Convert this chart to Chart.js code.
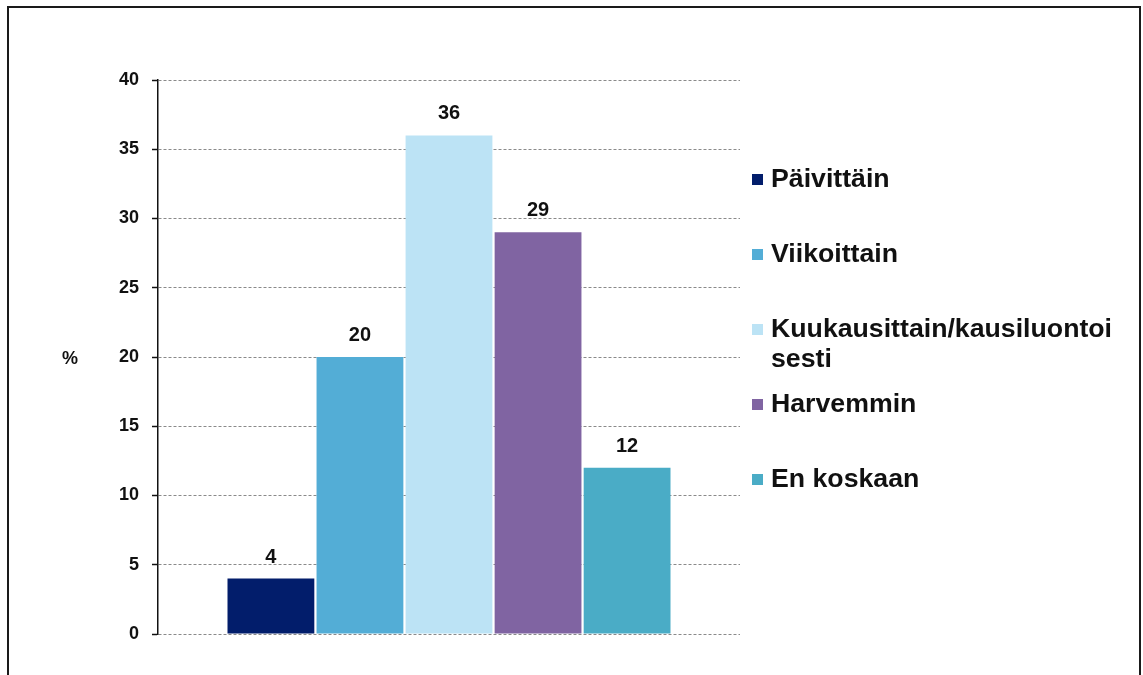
<!DOCTYPE html>
<html>
<head>
<meta charset="utf-8">
<script src="https://cdn.jsdelivr.net/npm/chart.js@4"></script>
<style>
    body { margin: 0; background: #fff; }
    #wrap { position: relative; width: 1143px; height: 675px; overflow: hidden; }
    #frame {
        position: absolute; left: 7px; top: 6px; width: 1130px; height: 720px;
        border: 2px solid #1a1a1a; pointer-events: none;
    }
    canvas { position: absolute; left: 0; top: 0; }
</style>
</head>
<body>
<div id="wrap">
    <canvas id="chart" width="1143" height="675"></canvas>
    <div id="frame"></div>
</div>
<script>
// Data
const categories = [''];
const seriesNames = ['Päivittäin', 'Viikoittain', 'Kuukausittain/kausiluontoisesti', 'Harvemmin', 'En koskaan'];
const legendLines = [['Päivittäin'], ['Viikoittain'], ['Kuukausittain/kausiluontoi', 'sesti'], ['Harvemmin'], ['En koskaan']];
const seriesValues = [4, 20, 36, 29, 12];
const seriesColors = ['#021D6B', '#53ADD6', '#BCE3F5', '#8064A2', '#4AACC6'];
const yTicks = [0, 5, 10, 15, 20, 25, 30, 35, 40];
const yTitle = '%';

const FONT = "'Liberation Sans', Arial, sans-serif";

// Value labels above bars, y title and the legend on the right
const extrasPlugin = {
    id: 'extras',
    afterDatasetsDraw(chart) {
        const ctx = chart.ctx;
        ctx.save();
        ctx.fillStyle = '#111';
        ctx.font = 'bold 20px ' + FONT;
        ctx.textAlign = 'center';
        ctx.textBaseline = 'alphabetic';
        chart.data.datasets.forEach((ds, i) => {
            chart.getDatasetMeta(i).data.forEach((bar, j) => {
                ctx.fillText(String(ds.data[j]), bar.x, bar.y - 16);
            });
        });

        // y title, horizontal
        const area = chart.chartArea;
        ctx.font = 'bold 18px ' + FONT;
        ctx.textBaseline = 'middle';
        ctx.fillText(yTitle, 70, (area.top + area.bottom) / 2 + 2);

        // legend
        ctx.textAlign = 'left';
        ctx.font = 'bold 26.7px ' + FONT;
        chart.data.datasets.forEach((ds, i) => {
            const y = 180 + i * 75;
            ctx.fillStyle = ds.backgroundColor;
            ctx.fillRect(752, y - 6, 11, 11);
            ctx.fillStyle = '#111';
            legendLines[i].forEach((line, k) => {
                ctx.fillText(line, 771, y + k * 30);
            });
        });
        ctx.restore();
    }
};

new Chart(document.getElementById('chart'), {
    type: 'bar',
    data: {
        labels: categories,
        datasets: seriesNames.map((name, i) => ({
            label: name,
            data: [seriesValues[i]],
            backgroundColor: seriesColors[i],
            borderWidth: 0,
            categoryPercentage: 0.765,
            barPercentage: 0.975
        }))
    },
    options: {
        responsive: false,
        animation: false,
        layout: {
            padding: { left: 0, right: 403, top: 80, bottom: 41 }
        },
        plugins: {
            legend: { display: false },
            tooltip: { enabled: false }
        },
        scales: {
            x: { display: false },
            y: {
                min: 0,
                max: 40,
                afterFit: function (scale) {
                    scale.width = 158;
                },
                afterBuildTicks: function (scale) {
                    scale.ticks = yTicks.map(v => ({ value: v }));
                },
                grid: {
                    color: '#8a8a8a',
                    lineWidth: 1,
                    tickLength: 6,
                    tickColor: '#111',
                    tickWidth: 1.5,
                    tickBorderDash: []
                },
                border: {
                    display: true,
                    color: '#111',
                    width: 1.5,
                    dash: [3, 2]
                },
                ticks: {
                    padding: 13,
                    color: '#111',
                    font: {
                        family: FONT,
                        size: 18,
                        weight: 'bold'
                    }
                }
            }
        }
    },
    plugins: [extrasPlugin]
});
</script>
</body>
</html>
